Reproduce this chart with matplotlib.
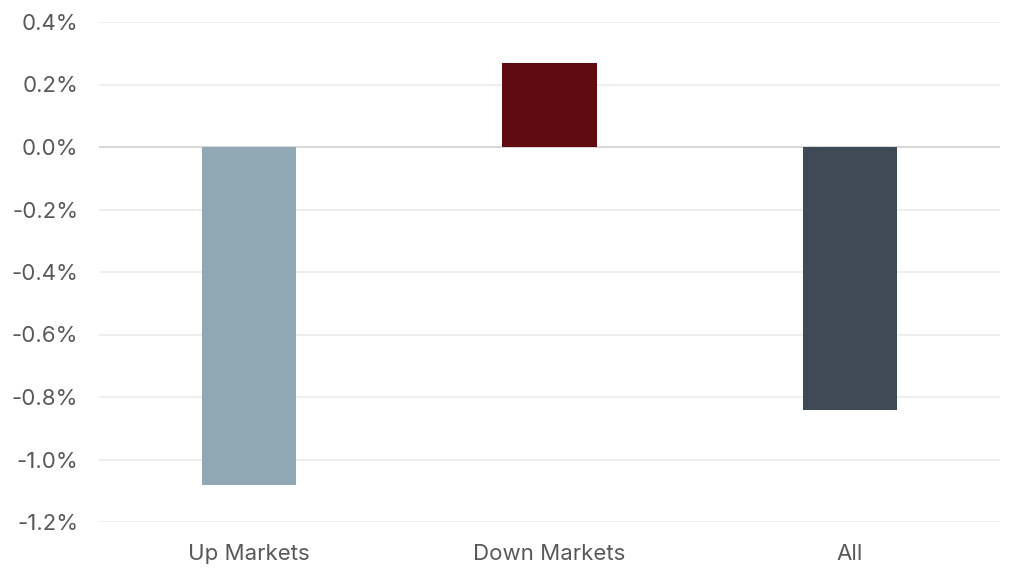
import matplotlib
matplotlib.use("Agg")
import matplotlib.pyplot as plt
from matplotlib.ticker import FuncFormatter

categories = ["Up Markets", "Down Markets", "All"]
values = [-1.08, 0.27, -0.84]
colors = ["#8fa8b4", "#600a11", "#3e4a56"]
yticks = [0.4, 0.2, 0.0, -0.2, -0.4, -0.6, -0.8, -1.0, -1.2]

plt.rcParams['font.family'] = ['Inter', 'DejaVu Sans']

fig = plt.figure(figsize=(10.24, 5.80), dpi=100)
ax = fig.add_axes([99/1024, 58/580, 901/1024, 500/580])

x = range(len(categories))
ax.bar(x, values, width=0.313, color=colors, zorder=3)
ax.set_xlim(-0.5, 2.5)
ax.set_ylim(-1.2, 0.4)
ax.set_yticks(yticks)
ax.yaxis.set_major_formatter(FuncFormatter(lambda v, p: f"{v:.1f}%"))
ax.set_xticks(list(x))
ax.set_xticklabels(categories)
ax.grid(axis='y', color='#ebebeb', linewidth=1.2, zorder=0)
ax.axhline(0, color='#d4d4d4', linewidth=1.2, zorder=2)
for s in ax.spines.values():
    s.set_visible(False)
ax.tick_params(axis='both', length=0, labelsize=16, colors='#595959')
ax.tick_params(axis='y', pad=15)
ax.tick_params(axis='x', pad=16)

fig.savefig("out.png", dpi=100, facecolor='white')
